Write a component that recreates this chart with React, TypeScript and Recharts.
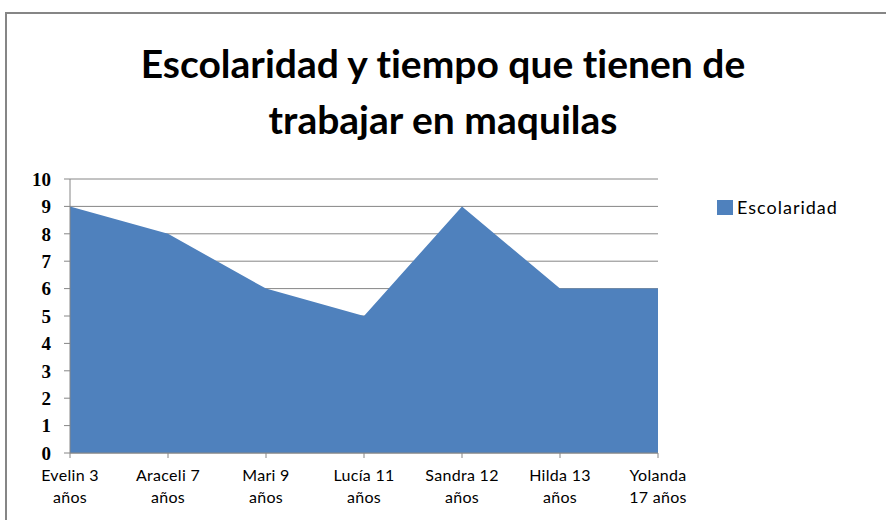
import React from 'react';
import {
  AreaChart,
  Area,
  XAxis,
  YAxis,
  CartesianGrid
} from 'recharts';

// categories (line break = where the label wraps)
const nombres = [
  'Evelin 3\naños',
  'Araceli 7\naños',
  'Mari 9\naños',
  'Lucía 11\naños',
  'Sandra 12\naños',
  'Hilda 13\naños',
  'Yolanda\n17 años'
];

const escolaridad = [9, 8, 6, 5, 9, 6, 6];

const yTicks = [0, 1, 2, 3, 4, 5, 6, 7, 8, 9, 10];

const data = nombres.map((nombre, i) => ({ nombre, escolaridad: escolaridad[i] }));

const GRAY = '#868686';
const BLUE = '#4F81BD';
const SANS = 'Lato, "Open Sans", sans-serif';

// two-line category label
const XTick = (props: any) => {
  const { x, y, payload } = props;
  const lines = String(payload.value).split('\n');
  return (
    <g transform={`translate(${x},${y})`}>
      {lines.map((line, i) => (
        <text
          key={i}
          x={0}
          y={21 + i * 22}
          textAnchor="middle"
          fill="#000"
          fontFamily={SANS}
          fontSize={16}
          letterSpacing={0.3}
        >
          {line}
        </text>
      ))}
    </g>
  );
};

export default function App() {
  return (
    <div style={{ position: 'absolute', left: 0, top: 0, width: 886, height: 527, background: '#fff' }}>
      {/* frame: only top and left edges visible */}
      <div
        style={{
          position: 'absolute',
          left: 5,
          top: 12,
          width: 881,
          height: 508,
          borderTop: `2px solid ${GRAY}`,
          borderLeft: `2px solid ${GRAY}`,
          boxSizing: 'border-box'
        }}
      />
      <div
        style={{
          position: 'absolute',
          left: 0,
          top: 35,
          width: 886,
          textAlign: 'center',
          fontFamily: SANS,
          fontWeight: 700,
          fontSize: 39,
          lineHeight: '56px',
          fontVariantLigatures: 'none',
          color: '#000'
        }}
      >
        Escolaridad y tiempo que tienen de
        <br />
        trabajar en maquilas
      </div>
      <div
        style={{
          position: 'absolute',
          left: 717,
          top: 196,
          display: 'flex',
          alignItems: 'center',
          fontFamily: SANS,
          fontSize: 18,
          letterSpacing: 1,
          color: '#000'
        }}
      >
        <span style={{ width: 16, height: 15, background: BLUE, display: 'inline-block', marginRight: 4 }} />
        <span>Escolaridad</span>
      </div>
      <AreaChart
        width={886}
        height={527}
        data={data}
        margin={{ top: 179, right: 228, bottom: 14, left: 30 }}
        style={{ position: 'absolute', left: 0, top: 0 }}
      >
        <CartesianGrid vertical={false} stroke={GRAY} strokeWidth={1} />
        <XAxis
          dataKey="nombre"
          height={60}
          interval={0}
          stroke={GRAY}
          tickSize={5}
          tickMargin={2}
          tick={<XTick />}
        />
        <YAxis
          width={40}
          domain={[0, 10]}
          ticks={yTicks}
          interval={0}
          stroke={GRAY}
          tickSize={6}
          tickMargin={13}
          tick={{ fill: '#000', fontFamily: '"Liberation Serif", serif', fontWeight: 700, fontSize: 19 }}
        />
        <Area
          type="linear"
          dataKey="escolaridad"
          name="Escolaridad"
          fill={BLUE}
          fillOpacity={1}
          stroke="none"
          isAnimationActive={false}
        />
      </AreaChart>
    </div>
  );
}
